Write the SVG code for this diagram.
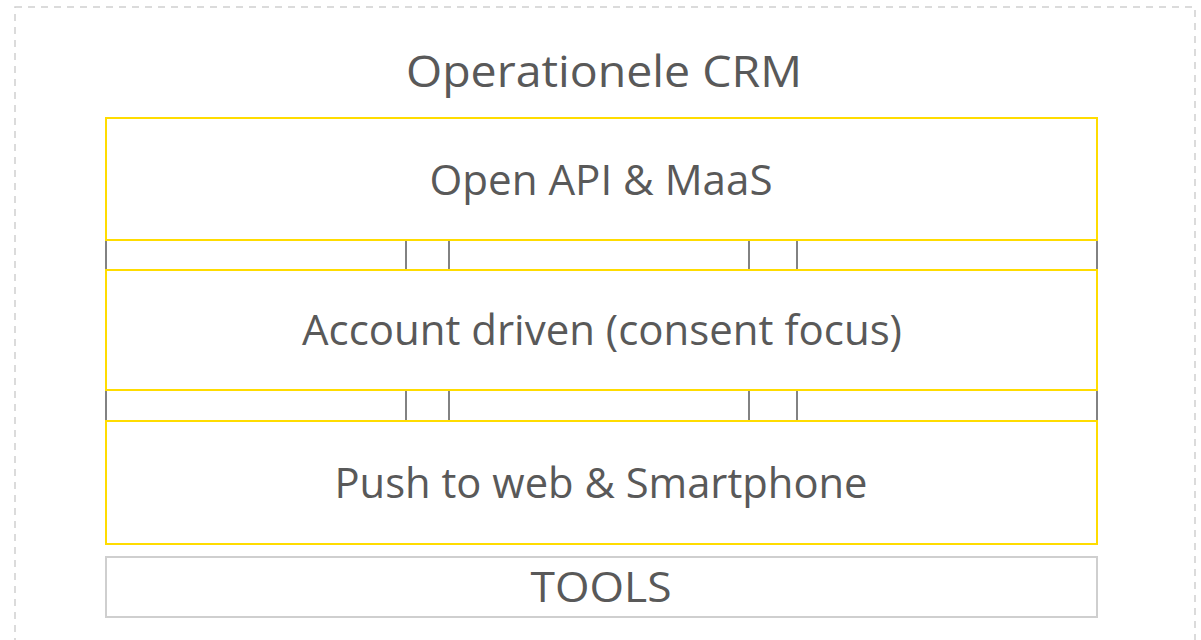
<svg xmlns="http://www.w3.org/2000/svg" width="1201" height="640" viewBox="0 0 1201 640">
<style>
.frame{fill:none;stroke:#d0d0d0;stroke-width:1.5;stroke-dasharray:7 6}
.layer{fill:#fff;stroke:#ffdc00;stroke-width:2}
.tools{fill:#fff;stroke:#cfcfcf;stroke-width:2}
.link{stroke:#595959;stroke-width:1.5}
.lbl{font-family:"Open Sans","Liberation Sans",sans-serif;fill:#595959;text-anchor:middle}
</style>
<rect width="1201" height="640" fill="#fff"/>
<rect class="frame" x="15" y="7" width="1180" height="660"/>
<g id="title"><text class="lbl" x="604" y="87" font-size="43" textLength="396" lengthAdjust="spacingAndGlyphs">Operationele CRM</text></g>
<g id="connectors">
<line class="link" x1="106" y1="240" x2="106" y2="270"/>
<line class="link" x1="406" y1="240" x2="406" y2="270"/>
<line class="link" x1="449" y1="240" x2="449" y2="270"/>
<line class="link" x1="749" y1="240" x2="749" y2="270"/>
<line class="link" x1="797" y1="240" x2="797" y2="270"/>
<line class="link" x1="1097" y1="240" x2="1097" y2="270"/>
<line class="link" x1="106" y1="390" x2="106" y2="421"/>
<line class="link" x1="406" y1="390" x2="406" y2="421"/>
<line class="link" x1="449" y1="390" x2="449" y2="421"/>
<line class="link" x1="749" y1="390" x2="749" y2="421"/>
<line class="link" x1="797" y1="390" x2="797" y2="421"/>
<line class="link" x1="1097" y1="390" x2="1097" y2="421"/>
<line x1="106" y1="240" x2="1097" y2="240" stroke="#ffdc00" stroke-width="2"/>
<line x1="106" y1="390" x2="1097" y2="390" stroke="#ffdc00" stroke-width="2"/>
</g>
<g id="open-api">
<rect class="layer" x="106" y="118" width="991" height="122"/>
<text class="lbl" x="601" y="195" font-size="42" textLength="343" lengthAdjust="spacingAndGlyphs">Open API &amp; MaaS</text>
</g>
<g id="account-driven">
<rect class="layer" x="106" y="270" width="991" height="120"/>
<text class="lbl" x="602" y="345" font-size="42" textLength="600" lengthAdjust="spacingAndGlyphs">Account driven (consent focus)</text>
</g>
<g id="push">
<rect class="layer" x="106" y="421" width="991" height="123"/>
<text class="lbl" x="601" y="498" font-size="42" textLength="533" lengthAdjust="spacingAndGlyphs">Push to web &amp; Smartphone</text>
</g>
<g id="tools">
<rect class="tools" x="106" y="557" width="991" height="60"/>
<text class="lbl" x="601" y="602" font-size="42" textLength="141" lengthAdjust="spacingAndGlyphs">TOOLS</text>
</g>
</svg>
